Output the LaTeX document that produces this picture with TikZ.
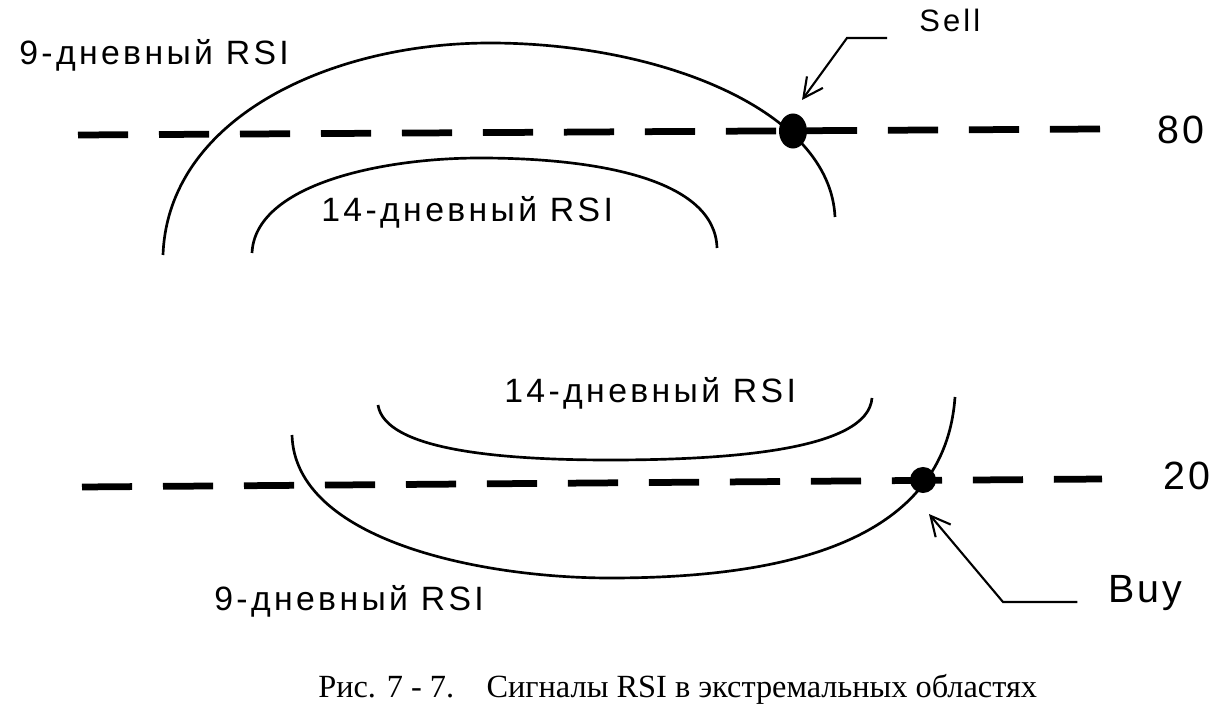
\documentclass[tikz,border=0pt]{standalone}
\usepackage{fontspec}
\setmainfont{Liberation Serif}
\newfontfamily\rsifont[LetterSpace=10]{Liberation Sans}
\newfontfamily\levelfont[LetterSpace=8]{Liberation Sans}
\usetikzlibrary{arrows.meta}
\usetikzlibrary{shapes.geometric}

\begin{document}
\begin{tikzpicture}[
	x=0.025cm, y=-0.025cm,
	line width=1.9pt
]
\tikzset{
    rsilabel/.style = {inner sep=0pt, anchor=base west, font=\rsifont\fontsize{24pt}{28pt}\selectfont},
    levellabel/.style = {inner sep=0pt, anchor=base west, font=\levelfont\fontsize{28pt}{32pt}\selectfont},
    level/.style = {line width=4.8pt, dash pattern=on 35.6pt off 22pt},
    signal/.style = {ellipse, fill=black, inner sep=0pt},
    pointer/.style = {line width=1.5pt, -{Straight Barb[length=14pt,width=14pt]}}
}
\useasboundingbox (0,0) rectangle (1232,708);
% levels
\draw[level] (78,135) -- (1100,129);
\draw[level] (82,487) -- (1102,479);
\node[levellabel] (lvl80) at (1156,144) {80};
\node[levellabel] (lvl20) at (1162,490) {20};
% upper curves
\draw (163,255) .. controls (168,118) and (330,43) .. (490,43) .. controls (660,43) and (830,110) .. (835,217);
\draw (252,253) .. controls (255,185) and (380,158) .. (480,158) .. controls (600,158) and (715,180) .. (717,248);
\node[rsilabel] (lbl9top) at (18,65) {9-дневный RSI};
\node[rsilabel] (lbl14top) at (320,222) {14-дневный RSI};
% lower curves
\draw (292,435) .. controls (295,540) and (480,578) .. (610,578) .. controls (790,578) and (945,540) .. (955,397);
\draw (378,405) .. controls (385,450) and (500,460) .. (610,460) .. controls (730,460) and (868,450) .. (872,398);
\node[rsilabel] (lbl14bot) at (503,403) {14-дневный RSI};
\node[rsilabel] (lbl9bot) at (213,610) {9-дневный RSI};
% signals
\node[signal, minimum width=19.9pt, minimum height=24.9pt] (sigsell) at (793,131) {};
\node[signal, minimum width=18.5pt, minimum height=18.5pt] (sigbuy) at (923,480) {};
\node[rsilabel, font=\rsifont\fontsize{22pt}{26pt}\selectfont] (sell) at (918,32) {Sell};
\node[levellabel] (buy) at (1107,602) {Buy};
\coordinate (sellbend) at (847,38);
\coordinate (selltip) at (802,100);
\coordinate (buybend) at (1003,602);
\coordinate (buytip) at (929,514);
\draw[pointer] ([xshift=-22pt, yshift=-4.3pt]sell.base west) -- (sellbend) -- (selltip);
\draw[pointer] ([xshift=-21pt]buy.base west) -- (buybend) -- (buytip);
% caption
\node[anchor=base west, inner sep=0pt, font=\fontsize{23pt}{26pt}\selectfont] (caption) at (317,697) {Рис. 7 - 7.\quad Сигналы RSI в экстремальных областях};
\end{tikzpicture}
\end{document}
